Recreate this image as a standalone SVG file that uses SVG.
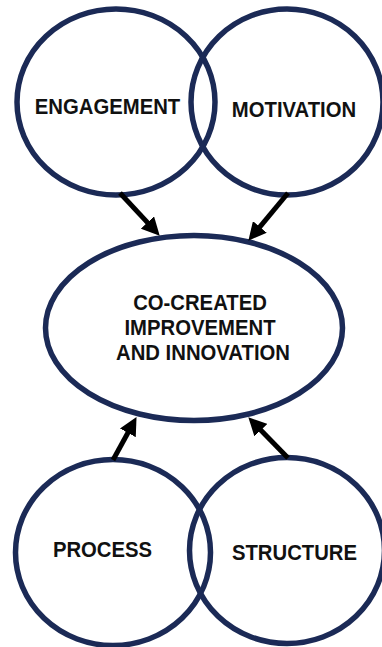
<svg xmlns="http://www.w3.org/2000/svg" width="382" height="647" viewBox="0 0 382 647">
  <style>
    .ring { fill: none; stroke: #1b2a56; stroke-width: 5.5; }
    .label { font-family: "Liberation Sans", Arial, sans-serif; font-weight: bold; font-size: 20.3px; fill: #111; text-anchor: middle; }
    .arrow { stroke: #000; stroke-width: 5; fill: none; marker-end: url(#head); }
  </style>
  <defs>
    <marker id="head" markerUnits="userSpaceOnUse" markerWidth="19" markerHeight="18" refX="9" refY="9" orient="auto">
      <path d="M0,0 L18,9 L0,18 Z" fill="#000"/>
    </marker>
  </defs>
  <rect width="382" height="647" fill="#fff"/>

  <!-- labels are drawn slightly taller than the stock glyphs: scale(1,1.1) about each baseline -->
  <g id="engagement">
    <ellipse class="ring" cx="116" cy="102" rx="99" ry="93"/>
    <text class="label" transform="translate(107.5,114) scale(1,1.1)">ENGAGEMENT</text>
  </g>
  <g id="motivation">
    <ellipse class="ring" cx="287" cy="102" rx="96" ry="93"/>
    <text class="label" transform="translate(294,116.5) scale(1,1.1)">MOTIVATION</text>
  </g>
  <g id="co-created">
    <ellipse class="ring" cx="194" cy="328" rx="148.5" ry="92.5"/>
    <text class="label" transform="translate(200,310) scale(1,1.1)">CO-CREATED</text>
    <text class="label" transform="translate(200,335) scale(1,1.1)">IMPROVEMENT</text>
    <text class="label" transform="translate(203,360) scale(1,1.1)">AND INNOVATION</text>
  </g>
  <g id="process">
    <ellipse class="ring" cx="113" cy="552.5" rx="97.5" ry="93"/>
    <text class="label" transform="translate(102.5,557) scale(1,1.1)">PROCESS</text>
  </g>
  <g id="structure">
    <ellipse class="ring" cx="287" cy="550.5" rx="97.5" ry="93"/>
    <text class="label" transform="translate(294.5,559.5) scale(1,1.1)">STRUCTURE</text>
  </g>

  <g id="connectors">
    <line class="arrow" x1="120" y1="193" x2="153.6" y2="229.1"/>
    <line class="arrow" x1="288" y1="193" x2="254.1" y2="233.8"/>
    <line class="arrow" x1="113" y1="460" x2="132.2" y2="425"/>
    <line class="arrow" x1="288" y1="458" x2="254.6" y2="423.7"/>
  </g>
</svg>
